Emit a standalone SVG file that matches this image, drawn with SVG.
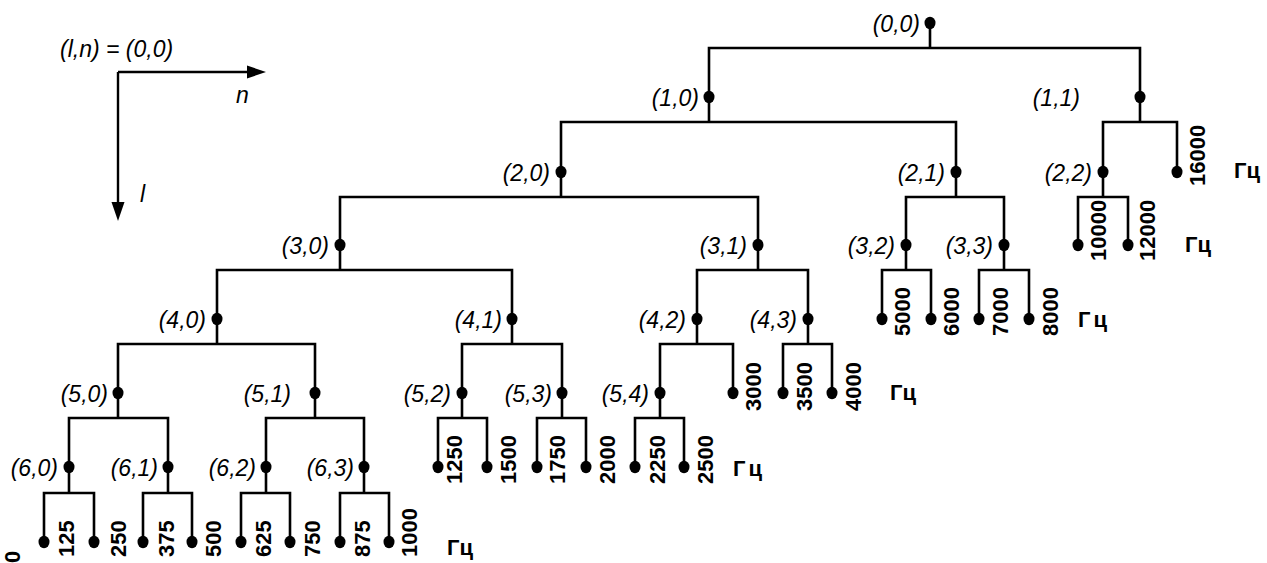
<svg xmlns="http://www.w3.org/2000/svg" width="1267" height="563" viewBox="0 0 1267 563">
<style>
.ln{fill:none;stroke:#000;stroke-width:2.6;stroke-linecap:square}
.ax{fill:none;stroke:#000;stroke-width:2.4}
.lb{font-family:"Liberation Sans",Arial,sans-serif;font-style:italic;font-size:23px;fill:#000}
.fq{font-family:"Liberation Sans",Arial,sans-serif;font-weight:bold;font-size:22px;fill:#000}
.nl{text-anchor:end}
.wide{letter-spacing:3px}
</style>
<defs>
<ellipse id="d" cx="0" cy="0" rx="5.5" ry="6.2" fill="#000"/>
</defs>
<rect width="1267" height="563" fill="#fff"/>

<!-- axes -->
<g id="axes">
<path class="ax" d="M118,72 H250 M118,72 V205"/>
<polygon points="266,72 247,65.5 247,78.5" fill="#000"/>
<polygon points="118,221 111.5,202 124.5,202" fill="#000"/>
<text class="lb" x="60" y="57">(l,n) = (0,0)</text>
<text class="lb" x="236" y="103">n</text>
<text class="lb" x="140" y="202">l</text>
</g>

<!-- connectors -->
<g id="connectors" class="ln">
<path d="M930,23 V48 M709,97 V48 H1140 V97"/>
<path d="M709,97 V122 M561,172 V122 H956 V172"/>
<path d="M1140,97 V122 M1103,172 V122 H1177 V172"/>
<path d="M561,172 V197 M340,245 V197 H758 V245"/>
<path d="M956,172 V197 M906,245 V197 H1004 V245"/>
<path d="M1103,172 V197 M1078,245 V197 H1128 V245"/>
<path d="M340,245 V270 M217,319 V270 H512 V319"/>
<path d="M758,245 V270 M697,319 V270 H808 V319"/>
<path d="M906,245 V270 M882,319 V270 H931 V319"/>
<path d="M1004,245 V270 M979,319 V270 H1029 V319"/>
<path d="M217,319 V344 M118,393 V344 H315 V393"/>
<path d="M512,319 V344 M462,393 V344 H562 V393"/>
<path d="M697,319 V344 M660,393 V344 H733 V393"/>
<path d="M808,319 V344 M783,393 V344 H832 V393"/>
<path d="M118,393 V418 M69,467 V418 H168 V467"/>
<path d="M315,393 V418 M266,467 V418 H364 V467"/>
<path d="M462,393 V418 M438,467 V418 H487 V467"/>
<path d="M562,393 V418 M537,467 V418 H586 V467"/>
<path d="M660,393 V418 M635,467 V418 H684 V467"/>
<path d="M69,467 V493 M44,542 V493 H94 V542"/>
<path d="M168,467 V493 M143,542 V493 H192 V542"/>
<path d="M266,467 V493 M241,542 V493 H290 V542"/>
<path d="M364,467 V493 M340,542 V493 H389 V542"/>
</g>

<!-- internal nodes -->
<g id="n0_0"><use href="#d" x="930" y="23"/><text class="lb nl" x="920" y="32">(0,0)</text></g>
<g id="n1_0"><use href="#d" x="709" y="97"/><text class="lb nl" x="699" y="106">(1,0)</text></g>
<g id="n1_1"><use href="#d" x="1140" y="97"/><text class="lb nl" x="1080" y="106">(1,1)</text></g>
<g id="n2_0"><use href="#d" x="561" y="172"/><text class="lb nl" x="550" y="181">(2,0)</text></g>
<g id="n2_1"><use href="#d" x="956" y="172"/><text class="lb nl" x="945" y="181">(2,1)</text></g>
<g id="n2_2"><use href="#d" x="1103" y="172"/><text class="lb nl" x="1092" y="181">(2,2)</text></g>
<g id="n3_0"><use href="#d" x="340" y="245"/><text class="lb nl" x="329" y="254">(3,0)</text></g>
<g id="n3_1"><use href="#d" x="758" y="245"/><text class="lb nl" x="747" y="254">(3,1)</text></g>
<g id="n3_2"><use href="#d" x="906" y="245"/><text class="lb nl" x="895" y="254">(3,2)</text></g>
<g id="n3_3"><use href="#d" x="1004" y="245"/><text class="lb nl" x="993" y="254">(3,3)</text></g>
<g id="n4_0"><use href="#d" x="217" y="319"/><text class="lb nl" x="206" y="328">(4,0)</text></g>
<g id="n4_1"><use href="#d" x="512" y="319"/><text class="lb nl" x="502" y="328">(4,1)</text></g>
<g id="n4_2"><use href="#d" x="697" y="319"/><text class="lb nl" x="686" y="328">(4,2)</text></g>
<g id="n4_3"><use href="#d" x="808" y="319"/><text class="lb nl" x="797" y="328">(4,3)</text></g>
<g id="n5_0"><use href="#d" x="118" y="393"/><text class="lb nl" x="108" y="402">(5,0)</text></g>
<g id="n5_1"><use href="#d" x="315" y="393"/><text class="lb nl" x="291" y="402">(5,1)</text></g>
<g id="n5_2"><use href="#d" x="462" y="393"/><text class="lb nl" x="451" y="402">(5,2)</text></g>
<g id="n5_3"><use href="#d" x="562" y="393"/><text class="lb nl" x="552" y="402">(5,3)</text></g>
<g id="n5_4"><use href="#d" x="660" y="393"/><text class="lb nl" x="649" y="402">(5,4)</text></g>
<g id="n6_0"><use href="#d" x="69" y="467"/><text class="lb nl" x="58" y="476">(6,0)</text></g>
<g id="n6_1"><use href="#d" x="168" y="467"/><text class="lb nl" x="158" y="476">(6,1)</text></g>
<g id="n6_2"><use href="#d" x="266" y="467"/><text class="lb nl" x="256" y="476">(6,2)</text></g>
<g id="n6_3"><use href="#d" x="364" y="467"/><text class="lb nl" x="354" y="476">(6,3)</text></g>

<!-- leaf nodes -->
<g id="leaves">
<g id="leaf_l2"><use href="#d" x="1177" y="172"/></g>
<g id="leaf_l3"><use href="#d" x="1078" y="245"/><use href="#d" x="1128" y="245"/></g>
<g id="leaf_l4"><use href="#d" x="882" y="319"/><use href="#d" x="931" y="319"/><use href="#d" x="979" y="319"/><use href="#d" x="1029" y="319"/></g>
<g id="leaf_l5"><use href="#d" x="733" y="393"/><use href="#d" x="783" y="393"/><use href="#d" x="832" y="393"/></g>
<g id="leaf_l6"><use href="#d" x="438" y="467"/><use href="#d" x="487" y="467"/><use href="#d" x="537" y="467"/><use href="#d" x="586" y="467"/><use href="#d" x="635" y="467"/><use href="#d" x="684" y="467"/></g>
<g id="leaf_l7"><use href="#d" x="44" y="542"/><use href="#d" x="94" y="542"/><use href="#d" x="143" y="542"/><use href="#d" x="192" y="542"/><use href="#d" x="241" y="542"/><use href="#d" x="290" y="542"/><use href="#d" x="340" y="542"/><use href="#d" x="389" y="542"/></g>
</g>

<!-- frequency labels -->
<g id="freq" class="fq">
<text transform="translate(20,563) rotate(-90)">0</text>
<text transform="translate(74,557) rotate(-90)">125</text>
<text transform="translate(126,557) rotate(-90)">250</text>
<text transform="translate(174,557) rotate(-90)">375</text>
<text transform="translate(221,557) rotate(-90)">500</text>
<text transform="translate(271,557) rotate(-90)">625</text>
<text transform="translate(320,557) rotate(-90)">750</text>
<text transform="translate(370,557) rotate(-90)">875</text>
<text transform="translate(417,557) rotate(-90)">1000</text>
<text x="447" y="555">Гц</text>

<text transform="translate(462,484) rotate(-90)">1250</text>
<text transform="translate(516,484) rotate(-90)">1500</text>
<text transform="translate(565,484) rotate(-90)">1750</text>
<text transform="translate(615,484) rotate(-90)">2000</text>
<text transform="translate(665,484) rotate(-90)">2250</text>
<text transform="translate(713,484) rotate(-90)">2500</text>
<text class="wide" x="733" y="476">Гц</text>

<text transform="translate(761,411) rotate(-90)">3000</text>
<text transform="translate(812,411) rotate(-90)">3500</text>
<text transform="translate(861,411) rotate(-90)">4000</text>
<text x="890" y="400">Гц</text>

<text transform="translate(910,336) rotate(-90)">5000</text>
<text transform="translate(959,336) rotate(-90)">6000</text>
<text transform="translate(1008,336) rotate(-90)">7000</text>
<text transform="translate(1058,336) rotate(-90)">8000</text>
<text class="wide" x="1078" y="327">Гц</text>

<text transform="translate(1106,261) rotate(-90)">10000</text>
<text transform="translate(1155,261) rotate(-90)">12000</text>
<text x="1185" y="252">Гц</text>

<text transform="translate(1205,186) rotate(-90)">16000</text>
<text x="1234" y="178">Гц</text>
</g>
</svg>
